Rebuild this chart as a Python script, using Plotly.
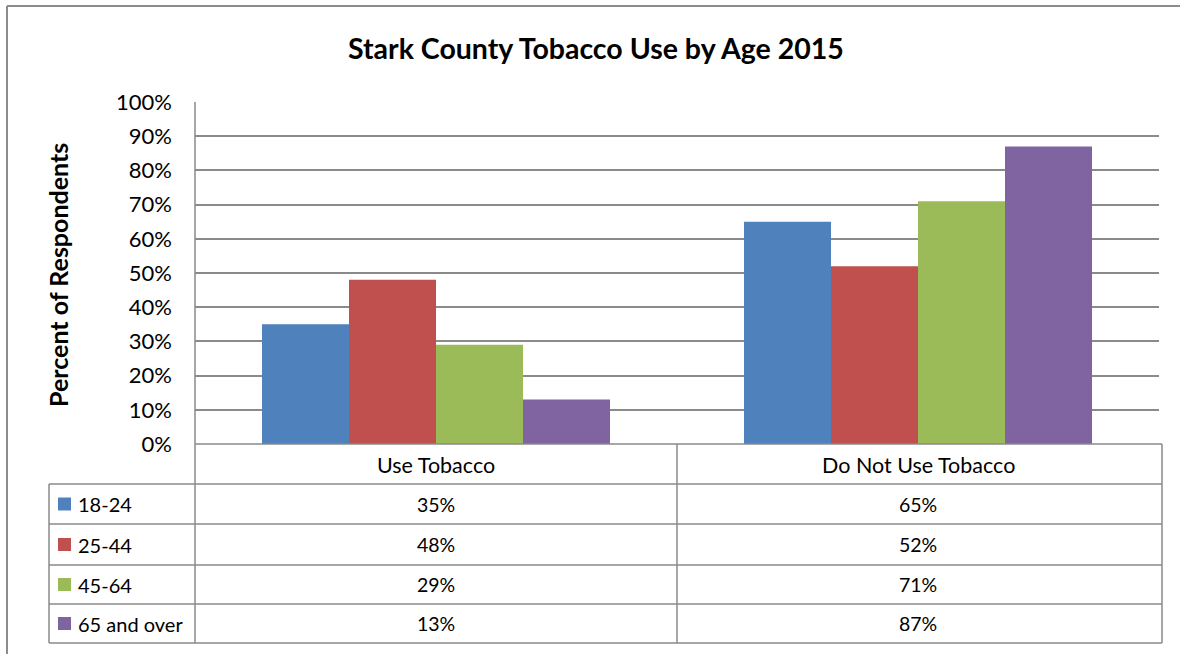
import plotly.graph_objects as go

# ---- data ----
categories = ["Use Tobacco", "Do Not Use Tobacco"]
age_groups = ["18-24", "25-44", "45-64", "65 and over"]
age_18_24 = [35, 65]
age_25_44 = [48, 52]
age_45_64 = [29, 71]
age_65_over = [13, 87]
y_ticks = [0, 10, 20, 30, 40, 50, 60, 70, 80, 90, 100]
title_text = "Stark County Tobacco Use by Age 2015"
y_title = "Percent of Respondents"

series = [age_18_24, age_25_44, age_45_64, age_65_over]
colors = ["#4F81BD", "#C0504D", "#9BBB59", "#8064A2"]

W, H = 1180, 654
L, R, T, B = 195, 1159, 102, 444  # plot area in pixels
PW, PH = R - L, B - T

def px(x):
    return (x - L) / PW

def py(y):
    return (B - y) / PH

FONT = "Lato"
GRID = "#8a8a8a"

fig = go.Figure()
for name, vals, col in zip(age_groups, series, colors):
    fig.add_trace(go.Bar(name=name, x=categories, y=vals,
                         marker=dict(color=col, line=dict(width=0))))

fig.update_layout(
    width=W, height=H,
    margin=dict(l=L, r=W - R, t=T, b=H - B),
    paper_bgcolor="white", plot_bgcolor="white",
    barmode="group", bargap=0.278, bargroupgap=0,
    showlegend=False,
    font=dict(family=FONT, color="black"),
    xaxis=dict(showticklabels=False, showgrid=False, zeroline=False,
               showline=False, range=[-0.5, 1.5], fixedrange=True),
    yaxis=dict(range=[0, 100], tickvals=y_ticks,
               ticktext=[f"{v}%" for v in y_ticks],
               tickfont=dict(size=22, family=FONT, color="black"),
               showgrid=True, gridcolor=GRID, gridwidth=1.5,
               zeroline=False, showline=False, ticks="",
               ticklabelstandoff=22, fixedrange=True),
)

shapes = []
def line(x0, y0, x1, y1, xref="paper", width=1.5, color=GRID):
    shapes.append(dict(type="line", xref=xref, yref="paper",
                       x0=x0, y0=y0, x1=x1, y1=y1,
                       line=dict(color=color, width=width)))

# outer chart border (top and left edges visible)
line(px(7), py(6), px(W), py(6), width=2, color="#8c8c8c")
line(px(7), py(6), px(7), py(H), width=2, color="#8c8c8c")

# plot area / table lines
TBL_L, TBL_R = 49, 1162
row_lines = [484, 524, 565, 604, 643]
line(px(L), py(T), px(L), py(row_lines[-1]))          # left axis line down through table
line(px(L), py(B), px(TBL_R), py(B))                  # baseline to table right
line(px(TBL_L), py(row_lines[0]), px(TBL_L), py(row_lines[-1]))
line(0.5, py(B), 0.5, py(row_lines[-1]), xref="x")    # column divider
line(px(TBL_R), py(B), px(TBL_R), py(row_lines[-1]))
for ry in row_lines:
    line(px(TBL_L), py(ry), px(TBL_R), py(ry))

annotations = []
# title
annotations.append(dict(text=f"<b>{title_text}</b>", xref="paper", yref="paper",
                        x=px(596), y=py(48), showarrow=False,
                        font=dict(size=28.5, family=FONT, color="black"),
                        xanchor="center", yanchor="middle"))
# y axis title
annotations.append(dict(text=f"<b>{y_title}</b>", xref="paper", yref="paper",
                        x=px(58), y=py(275), showarrow=False, textangle=-90,
                        font=dict(size=25, family=FONT, color="black"),
                        xanchor="center", yanchor="middle"))
# category header row
for c in categories:
    annotations.append(dict(text=c, xref="x", yref="paper", x=c, y=py(465),
                            showarrow=False, font=dict(size=21.5, family=FONT),
                            xanchor="center", yanchor="middle"))
# data rows
row_centers = [(row_lines[i] + row_lines[i + 1]) / 2 for i in range(4)]
for i, (name, vals, col) in enumerate(zip(age_groups, series, colors)):
    yc = row_centers[i]
    shapes.append(dict(type="rect", xref="paper", yref="paper",
                       x0=px(58), x1=px(71), y0=py(yc - 6.5), y1=py(yc + 6.5),
                       line=dict(width=0), fillcolor=col))
    annotations.append(dict(text=name, xref="paper", yref="paper",
                            x=px(76), y=py(yc), showarrow=False,
                            font=dict(size=20, family=FONT),
                            xanchor="left", yanchor="middle"))
    for c, v in zip(categories, vals):
        annotations.append(dict(text=f"{v}%", xref="x", yref="paper", x=c, y=py(yc),
                                showarrow=False, font=dict(size=19.5, family=FONT),
                                xanchor="center", yanchor="middle"))

fig.update_layout(shapes=shapes, annotations=annotations)
fig.write_html("out.html",
               config={"displayModeBar": False},
               post_script="document.body.style.margin='0';document.body.style.overflow='hidden';")
